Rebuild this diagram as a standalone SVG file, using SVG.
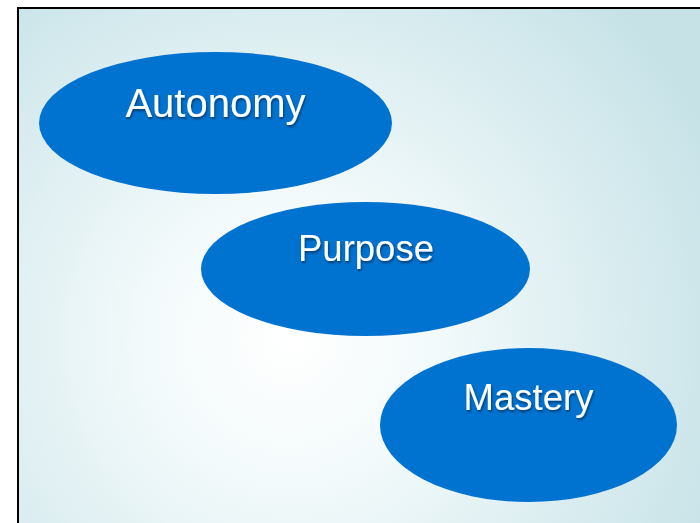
<svg xmlns="http://www.w3.org/2000/svg" width="700" height="523" viewBox="0 0 700 523">
<defs>
<radialGradient id="bg" gradientUnits="userSpaceOnUse" cx="290" cy="340" r="470">
<stop offset="0" stop-color="#ffffff"/>
<stop offset="0.3" stop-color="#f3fafb"/>
<stop offset="1" stop-color="#c6e2e7"/>
</radialGradient>
<filter id="sh" x="-10%" y="-20%" width="120%" height="140%">
<feDropShadow dx="1" dy="2" stdDeviation="1.2" flood-color="#000" flood-opacity="0.45"/>
</filter>
</defs>
<style>
.node{fill:#0072cf}
.lbl{font-family:"Liberation Sans",Arial,sans-serif;fill:#ffffff;text-anchor:middle;filter:url(#sh)}
</style>
<rect x="0" y="0" width="700" height="523" fill="#ffffff"/>
<rect x="18" y="8" width="690" height="525" fill="url(#bg)" stroke="#000" stroke-width="2"/>
<g id="connectors"></g>
<g id="autonomy">
<ellipse class="node" cx="215.5" cy="123" rx="176.5" ry="71"/>
<text class="lbl" x="215.5" y="116.5" font-size="40">Autonomy</text>
</g>
<g id="purpose">
<ellipse class="node" cx="365.5" cy="269" rx="164.5" ry="67"/>
<text class="lbl" x="366" y="261" font-size="36.5">Purpose</text>
</g>
<g id="mastery">
<ellipse class="node" cx="528.5" cy="425" rx="148.5" ry="77"/>
<text class="lbl" x="528.5" y="410" font-size="36.5">Mastery</text>
</g>
</svg>
